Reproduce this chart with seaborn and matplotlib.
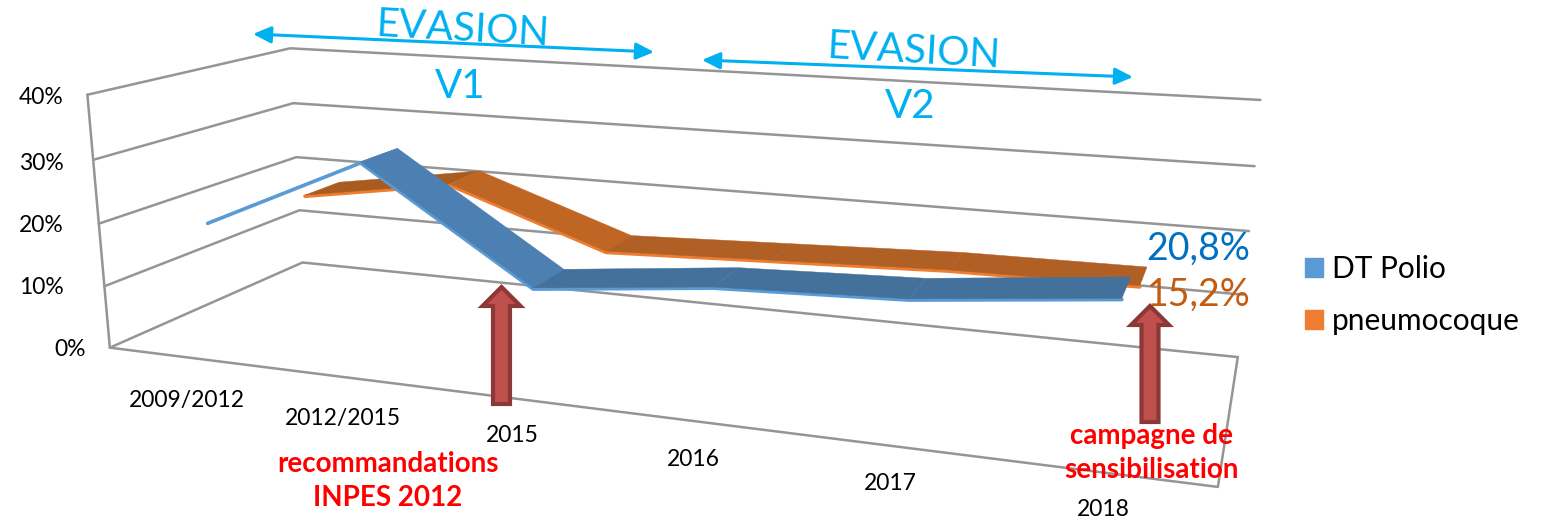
import numpy as np
import pandas as pd
import matplotlib
matplotlib.use("Agg")
import matplotlib.pyplot as plt
import matplotlib.patches as mpatches
import seaborn as sns

categories = ["2009/2012", "2012/2015", "2015", "2016", "2017", "2018"]
dt_polio = [19.5, 31.0, 14.2, 17.0, 18.0, 20.8]
pneumocoque = [18.0, 22.0, 13.0, 14.0, 15.0, 15.2]
value_ticks = [0, 10, 20, 30, 40]
polio_end_label = "20,8%"
pneumo_end_label = "15,2%"

sns.set_theme(style="white")
plt.rcParams["font.family"] = ["Lato", "DejaVu Sans"]

GRID = "#959595"
INK = "#000000"
CYAN = "#00B0F0"

# perspective camera of the Excel 3-D chart: (category, value, depth) -> pixel
world = np.array([[0,0,0],[6,0,0],[0,0,1],[6,0,1],[0,40,0],[0,40,1],[6,40,1],[0,20,0],[0,20,1],[6,20,1]], float)
image = np.array([[110,348],[1218,487],[303,263],[1237,357],[88,96],[290,48],[1260,100],[98,222],[296,157],[1250,231]], float)
rows = []
for (x, y, z), (u, v) in zip(world, image):
    rows.append([x, y, z, 1, 0, 0, 0, 0, -u*x, -u*y, -u*z, -u])
    rows.append([0, 0, 0, 0, x, y, z, 1, -v*x, -v*y, -v*z, -v])
P = np.linalg.svd(np.array(rows))[2][-1].reshape(3, 4)


def project(x, y, z):
    x, y, z = np.broadcast_arrays(np.asarray(x, float), np.asarray(y, float), np.asarray(z, float))
    h = P @ np.vstack([x.ravel(), y.ravel(), z.ravel(), np.ones(x.size)])
    return h[0] / h[2], h[1] / h[2]


fig = plt.figure(figsize=(15.44, 5.22), dpi=100)
ax = fig.add_axes([0, 0, 1, 1])
ax.set_xlim(0, 1544)
ax.set_ylim(522, 0)
ax.axis("off")

# walls and floor
for v in value_ticks:
    xs, ys = project([0, 0, 6], [v, v, v], [0, 1, 1])
    ax.plot(xs, ys, color=GRID, lw=1.8, zorder=1)
xs, ys = project([0, 0], [40, 0], [0, 0])
ax.plot(xs, ys, color=GRID, lw=1.8, zorder=1)
xs, ys = project([0, 6, 6], [0, 0, 0], [0, 0, 1])
ax.plot(xs, ys, color=GRID, lw=1.8, zorder=1)


def ribbon(values, z0, z1, tops, edge, name, zorder):
    pos = np.arange(len(values)) + 0.5
    for i in range(len(values) - 1):
        xa = [pos[i], pos[i + 1], pos[i + 1], pos[i]]
        ya = [values[i], values[i + 1], values[i + 1], values[i]]
        za = [z0, z0, z1, z1]
        px, py = project(xa, ya, za)
        ax.fill(px, py, color=tops[i], lw=0.3, zorder=zorder + 0.1)
    fx, fy = project(pos, values, z0)
    df = pd.DataFrame({"px": fx, "py": fy + 1.2, "serie": name})
    sns.lineplot(data=df, x="px", y="py", sort=False, color=edge, lw=2.6, ax=ax,
                 legend=False, zorder=zorder, errorbar=None)


ribbon(pneumocoque, 0.65, 0.85,
       ["#A85C20", "#C06625", "#B05F25", "#B05F25", "#B05F25"], "#ED7D31", "pneumocoque", 3)
ribbon(dt_polio, 0.15, 0.35,
       ["#5B9BD5", "#4D80B2", "#44719B", "#44719B", "#44719B"], "#5B9BD5", "DT Polio", 4)
ax.set_xlabel("")
ax.set_ylabel("")
ax.set_xlim(0, 1544)
ax.set_ylim(522, 0)

# value axis labels
tick_pos = {0: 70, 10: 41, 20: 41, 30: 41, 40: 41}
tick_y = {0: 349, 10: 288, 20: 226, 30: 163, 40: 98}
for v in value_ticks:
    ax.text(tick_pos[v], tick_y[v], f"{v}%", ha="center", va="center", fontsize=16.5, color=INK)

# category labels
cat_x = [187, 343, 512, 693, 890, 1103]
cat_y = [400, 419, 436, 459, 484, 510]
for c, x, y in zip(categories, cat_x, cat_y):
    ax.text(x, y, c, ha="center", va="center", fontsize=16.5, color=INK)

# evasion arrows and labels
for (a, b) in [((253, 34), (654, 52)), ((702, 60), (1133, 77))]:
    ax.annotate("", xy=b, xytext=a, zorder=6,
                arrowprops=dict(arrowstyle="<|-|>,head_length=0.9,head_width=0.42", color=CYAN, lw=2.2,
                                shrinkA=0, shrinkB=0))
ax.text(463, 29, "EVASION", color=CYAN, fontsize=29, rotation=-3.2, ha="center", va="center", rotation_mode="anchor")
ax.text(460, 87, "V1", color=CYAN, fontsize=29, ha="center", va="center")
ax.text(914, 51, "EVASION", color=CYAN, fontsize=29, rotation=-3.2, ha="center", va="center", rotation_mode="anchor")
ax.text(910, 107, "V2", color=CYAN, fontsize=29, ha="center", va="center")

# end labels
ax.text(1198, 249, polio_end_label, color="#0070C0", fontsize=27, ha="center", va="center", zorder=7)
ax.text(1199, 295, pneumo_end_label, color="#C55A11", fontsize=27, ha="center", va="center", zorder=7)

# block arrows
for x, tip, bottom in [(501.5, 283, 406), (1150, 302, 424)]:
    ax.add_patch(mpatches.FancyArrow(x, bottom - 2, 0, tip - bottom + 6, width=17, head_width=38, head_length=19,
                                     length_includes_head=True, facecolor="#C0504D", edgecolor="#8C3836",
                                     lw=3, joinstyle="miter", zorder=8))

# annotations
ax.text(388, 481, "recommandations\nINPES 2012", color="#FF0000", fontweight="bold", fontsize=20,
        ha="center", va="center", linespacing=1.4, zorder=9)
ax.text(1151, 453, "campagne de\nsensibilisation", color="#FF0000", fontweight="bold", fontsize=20,
        ha="center", va="center", linespacing=1.4, zorder=9)

# legend
handles = [mpatches.Patch(color="#5B9BD5"), mpatches.Patch(color="#ED7D31")]
ax.legend(handles, ["DT Polio", "pneumocoque"], loc="center left", bbox_to_anchor=(1305 / 1544, 1 - 295 / 522),
          frameon=False, fontsize=21.5, handlelength=0.6, handleheight=0.6, handletextpad=0.3, labelspacing=0.8,
          borderpad=0, borderaxespad=0, labelcolor=INK)

fig.savefig("out.png", dpi=100)
